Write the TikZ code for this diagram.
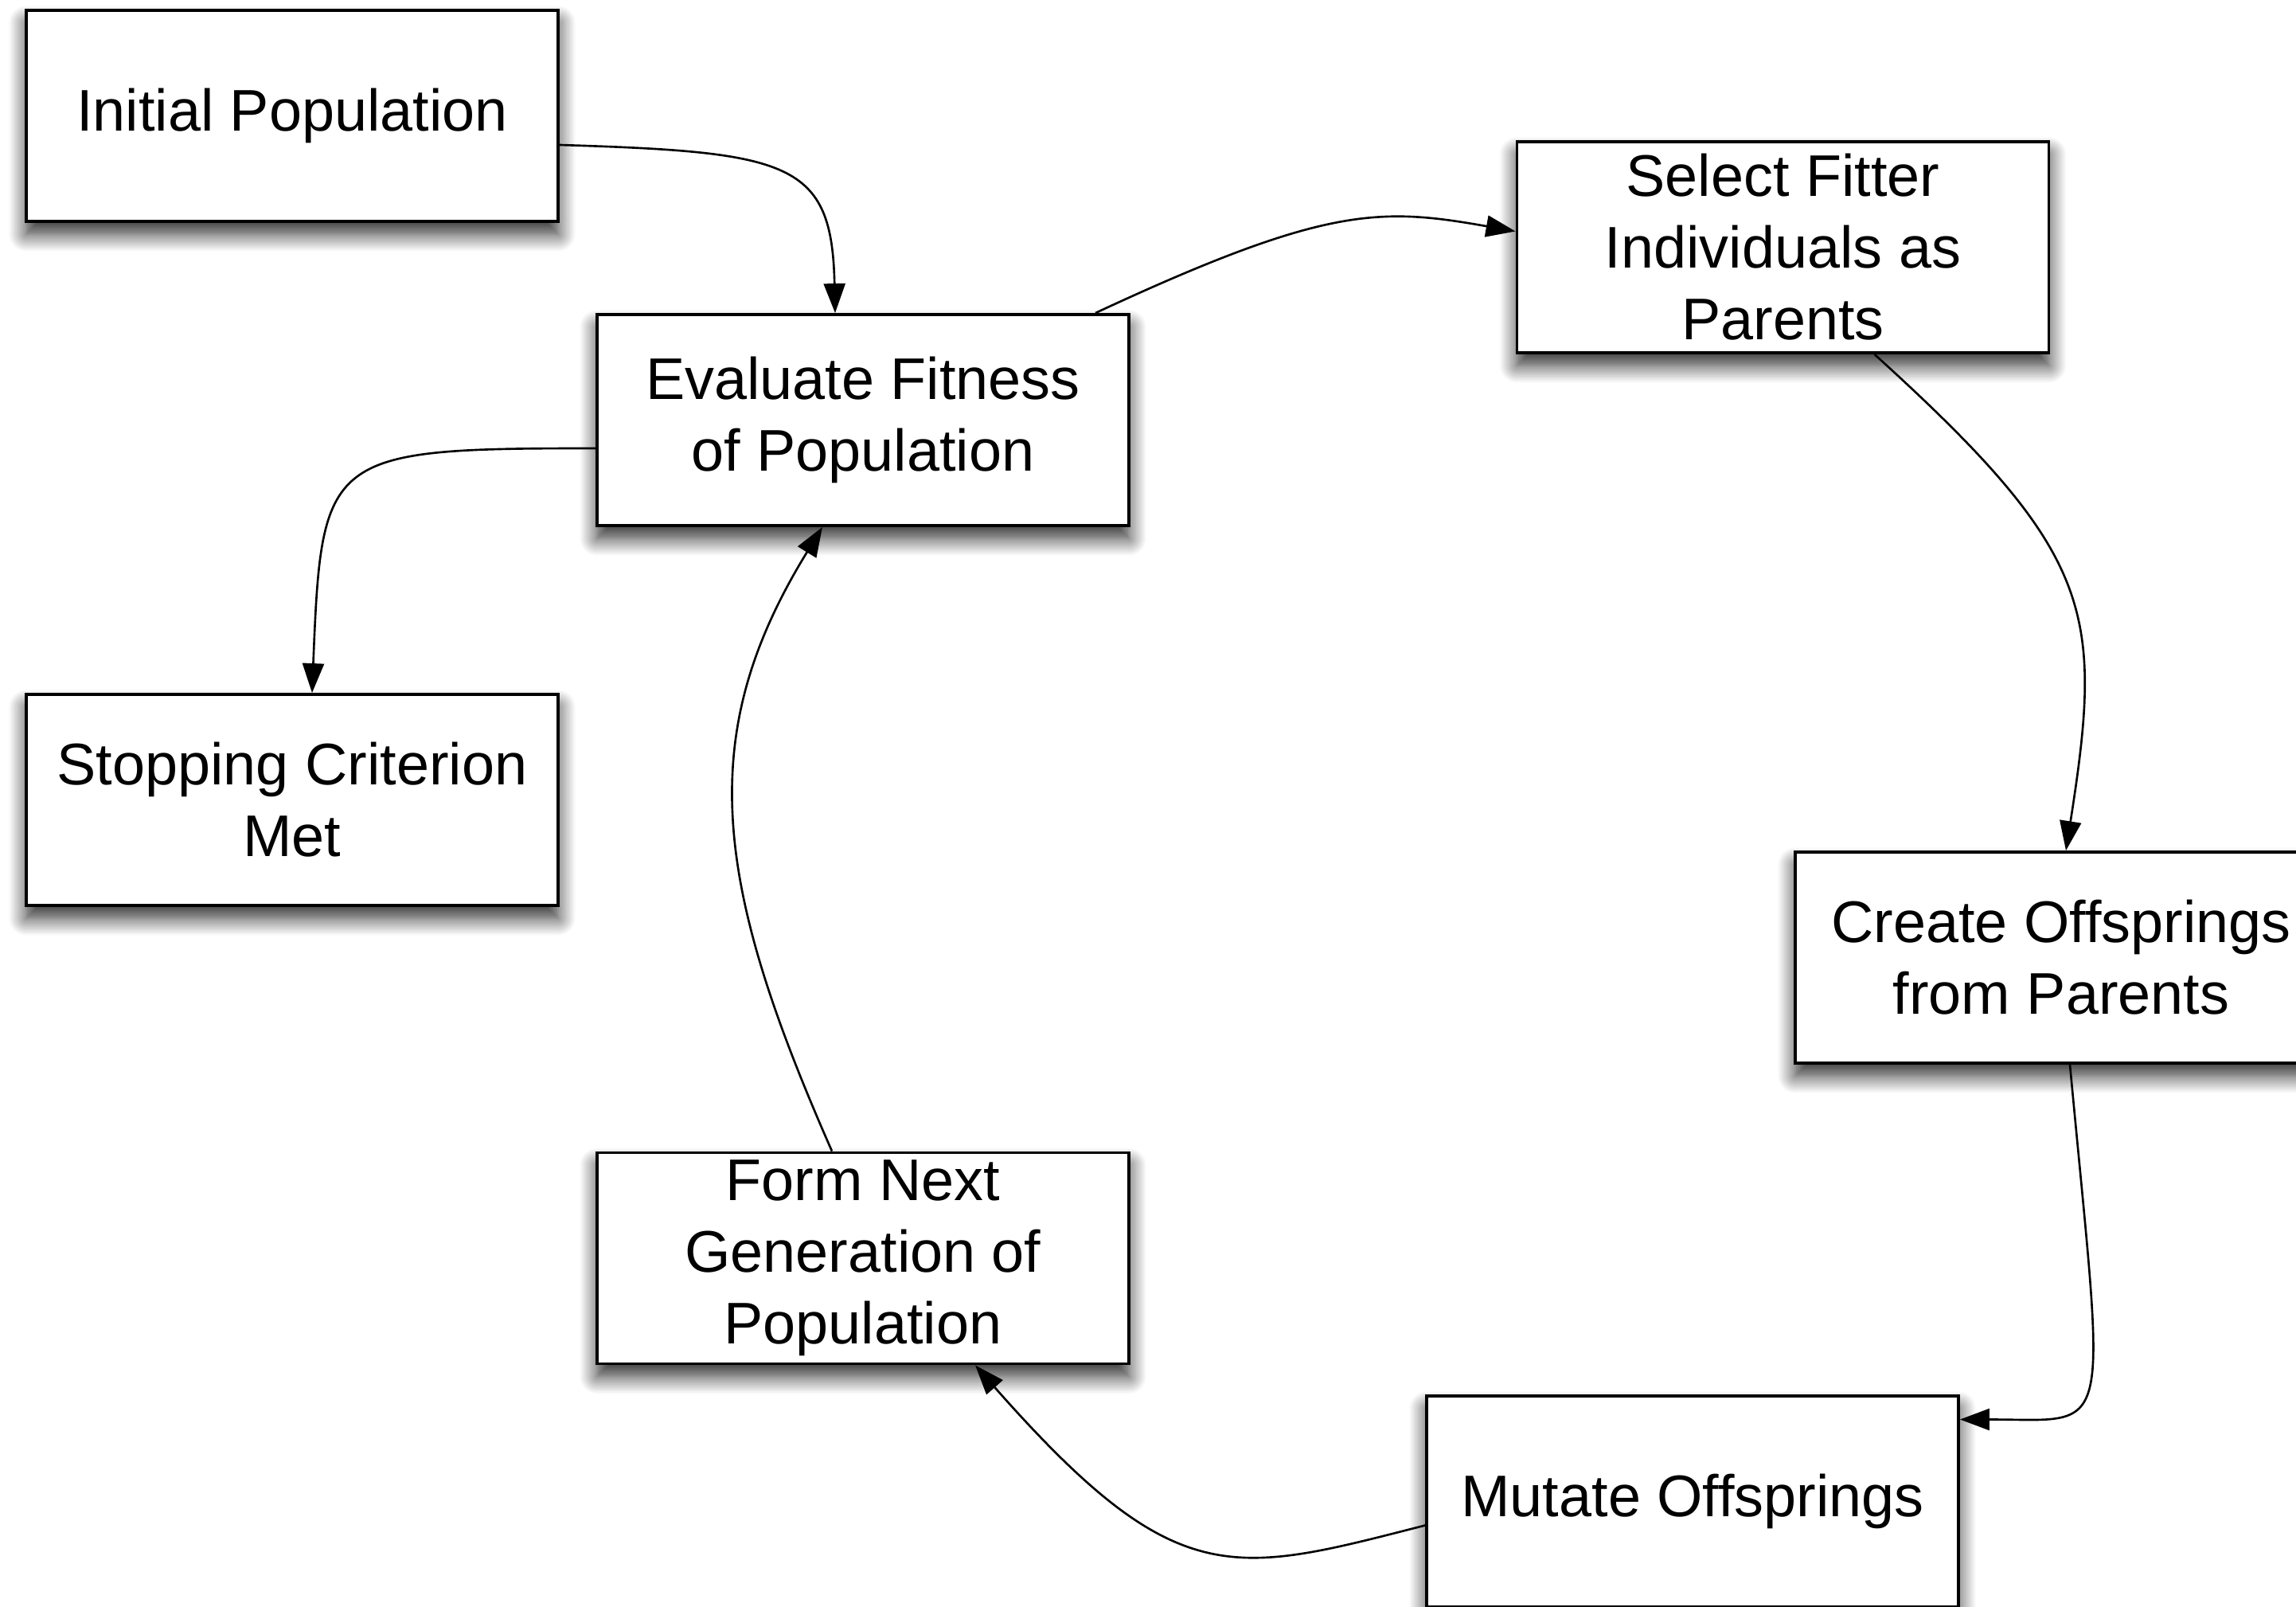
\documentclass[tikz,border=0pt]{standalone}
\usepackage{fontspec}
\setmainfont{Liberation Sans}
\usetikzlibrary{arrows.meta,shadows.blur}

\begin{document}
\begin{tikzpicture}
[box/.style={rectangle,draw=black,fill=white,line width=1.1pt,minimum width=6.68cm,minimum height=2.65cm,inner sep=0pt,align=center,font=\fontsize{21}{25.6}\selectfont,blur shadow={shadow xshift=0cm,shadow yshift=-0.16cm,shadow blur radius=0.22cm,shadow blur steps=14,shadow opacity=85}},
link/.style={line width=0.75pt,-{Triangle[length=3.7mm,width=2.7mm]}}]
\useasboundingbox (0,0) rectangle (28.84,20.17);

\node[box] (init) at (3.67,18.715) {Initial Population};
\node[box] (eval) at (10.84,14.895) {Evaluate Fitness\\of Population};
\node[box] (select) at (22.395,17.065) {Select Fitter\\Individuals as\\Parents};
\node[box] (stop) at (3.67,10.125) {Stopping Criterion\\Met};
\node[box] (create) at (25.89,8.145) {Create Offsprings\\from Parents};
\node[box] (form) at (10.84,4.37) {Form Next\\Generation of\\Population};
\node[box] (mutate) at (21.26,1.315) {Mutate Offsprings};

\draw [link] ([yshift=-3.65mm]init.east) .. controls +(2.9,-0.09) and +(-0.04,1.9) .. ([xshift=-3.5mm]eval.north);
\draw [link] ([xshift=2.92cm]eval.north) .. controls +(2.9,1.35) and +(-1.7,0.3) .. ([yshift=2.0mm]select.west);
\draw [link] ([xshift=1.15cm]select.south) .. controls +(2.78,-2.52) and +(0.47,3.0) .. ([xshift=0.6mm]create.north);
\draw [link] ([xshift=1.1mm]create.south) .. controls +(0.45,-4.8) and +(1.95,0) .. ([yshift=1.03cm]mutate.east);
\draw [link] ([yshift=-3.0mm]mutate.west) .. controls +(-2.43,-0.62) and +(2.53,-2.87) .. ([xshift=1.41cm]form.south);
\draw [link] ([xshift=-3.9mm]form.north) .. controls +(-1.5,3.4) and +(-1.6,-2.6) .. ([xshift=-5.1mm]eval.south);
\draw [link] ([yshift=-3.55mm]eval.west) .. controls +(-3.4,0) and +(0.12,3.0) .. ([xshift=2.5mm]stop.north);
\end{tikzpicture}
\end{document}
